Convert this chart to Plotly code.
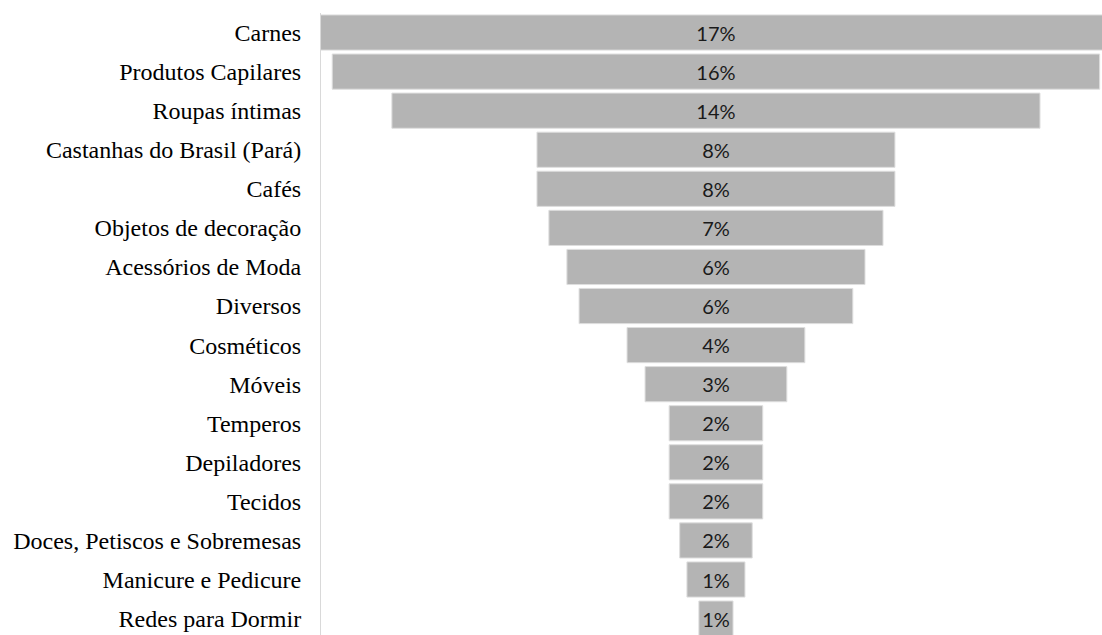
import plotly.graph_objects as go

# Share of items per product category
categories = [
    "Carnes",
    "Produtos Capilares",
    "Roupas íntimas",
    "Castanhas do Brasil (Pará)",
    "Cafés",
    "Objetos de decoração",
    "Acessórios de Moda",
    "Diversos",
    "Cosméticos",
    "Móveis",
    "Temperos",
    "Depiladores",
    "Tecidos",
    "Doces, Petiscos e Sobremesas",
    "Manicure e Pedicure",
    "Redes para Dormir",
]
shares = [
    0.169, 0.164, 0.1385, 0.0765, 0.0765, 0.0714, 0.0637, 0.0585,
    0.038, 0.0303, 0.020, 0.020, 0.020, 0.0155, 0.0124, 0.0073,
]

fig = go.Figure(
    go.Funnel(
        y=categories,
        x=shares,
        texttemplate="%{x:.0%}",
        textposition="inside",
        insidetextanchor="middle",
        constraintext="none",
        textfont=dict(family="Lato", size=20, color="#1a1a1a"),
        marker=dict(color="#b4b4b4", line=dict(color="#dedede", width=1)),
        connector=dict(visible=False),
        hoverinfo="skip",
    )
)

fig.update_layout(
    width=1102,
    height=635,
    margin=dict(l=321, r=0, t=13, b=0),
    paper_bgcolor="white",
    plot_bgcolor="white",
    funnelgap=0.1,
    showlegend=False,
    uniformtext=dict(mode="show", minsize=20),
    xaxis=dict(
        range=[-0.0844, 0.0825],
        visible=False,
        showgrid=False,
        zeroline=False,
    ),
    yaxis=dict(
        range=[15.42, -0.5],
        autorange=False,
        showgrid=False,
        zeroline=False,
        showline=True,
        linecolor="#d9d9d9",
        linewidth=1,
        ticks="",
        ticklabelstandoff=14,
        tickfont=dict(family="Liberation Serif", size=24, color="#000000"),
    ),
)

fig.write_html("out.html")
